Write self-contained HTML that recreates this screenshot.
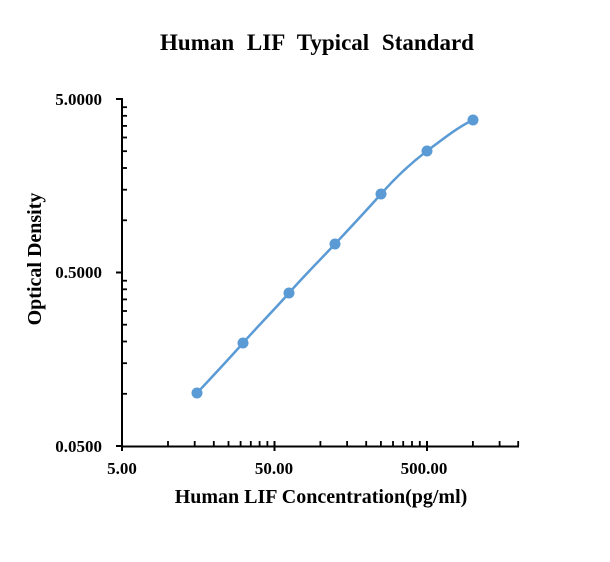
<!DOCTYPE html>
<html><head><meta charset="utf-8"><style>body{margin:0;background:#fff}</style></head>
<body>
<svg width="610" height="557" xmlns="http://www.w3.org/2000/svg" font-family="Liberation Serif, serif" font-weight="bold">
<rect width="610" height="557" fill="#fff"/>
<text x="317" y="50" font-size="23" word-spacing="7" text-anchor="middle">Human LIF Typical Standard</text>
<g stroke="#000" stroke-width="2" fill="none">
<line x1="122" y1="98" x2="122" y2="447"/>
<line x1="121" y1="446.5" x2="519" y2="446.5"/>
<line x1="116" y1="99" x2="122" y2="99"/>
<line x1="116" y1="272.5" x2="122" y2="272.5"/>
<line x1="116" y1="446" x2="122" y2="446"/>
<line x1="122" y1="441" x2="122" y2="451"/>
<line x1="274.5" y1="441" x2="274.5" y2="451"/>
<line x1="427" y1="441" x2="427" y2="451"/>
</g>
<g stroke="#000" stroke-width="1.8">
<line x1="168" y1="441" x2="168" y2="446"/><line x1="194.7" y1="441" x2="194.7" y2="446"/><line x1="213.8" y1="441" x2="213.8" y2="446"/><line x1="228.5" y1="441" x2="228.5" y2="446"/><line x1="240.6" y1="441" x2="240.6" y2="446"/><line x1="250.8" y1="441" x2="250.8" y2="446"/><line x1="259.6" y1="441" x2="259.6" y2="446"/><line x1="267.4" y1="441" x2="267.4" y2="446"/>
<line x1="320.4" y1="441" x2="320.4" y2="446"/><line x1="347.1" y1="441" x2="347.1" y2="446"/><line x1="366.2" y1="441" x2="366.2" y2="446"/><line x1="380.9" y1="441" x2="380.9" y2="446"/><line x1="393" y1="441" x2="393" y2="446"/><line x1="403.2" y1="441" x2="403.2" y2="446"/><line x1="412" y1="441" x2="412" y2="446"/><line x1="419.8" y1="441" x2="419.8" y2="446"/>
<line x1="472.9" y1="441" x2="472.9" y2="446"/><line x1="499.6" y1="441" x2="499.6" y2="446"/><line x1="518.2" y1="441" x2="518.2" y2="446"/>
<line x1="122" y1="107.2" x2="127" y2="107.2"/><line x1="122" y1="115.8" x2="127" y2="115.8"/><line x1="122" y1="125.9" x2="127" y2="125.9"/><line x1="122" y1="137.5" x2="127" y2="137.5"/><line x1="122" y1="151.2" x2="127" y2="151.2"/><line x1="122" y1="168" x2="127" y2="168"/><line x1="122" y1="189.7" x2="127" y2="189.7"/><line x1="122" y1="220.3" x2="127" y2="220.3"/>
<line x1="122" y1="280.7" x2="127" y2="280.7"/><line x1="122" y1="289.3" x2="127" y2="289.3"/><line x1="122" y1="299.4" x2="127" y2="299.4"/><line x1="122" y1="311" x2="127" y2="311"/><line x1="122" y1="324.7" x2="127" y2="324.7"/><line x1="122" y1="341.5" x2="127" y2="341.5"/><line x1="122" y1="363.2" x2="127" y2="363.2"/><line x1="122" y1="393.8" x2="127" y2="393.8"/>
</g>
<g font-size="17" text-anchor="end">
<text x="102" y="105">5.0000</text>
<text x="102" y="278">0.5000</text>
<text x="102" y="452">0.0500</text>
</g>
<g font-size="17" text-anchor="middle">
<text x="122" y="474">5.00</text>
<text x="274" y="474">50.00</text>
<text x="424" y="474">500.00</text>
</g>
<text x="321" y="503" font-size="20" text-anchor="middle">Human LIF Concentration(pg/ml)</text>
<text transform="translate(41,259) rotate(-90)" font-size="20" text-anchor="middle">Optical Density</text>
<path d="M197,393 C212,377 228,360 243,343 S274,310 289,293 S320,260 335,244 S366,211 381,194 S411,163 427,151 S458,127 473,120" stroke="#5b9bd5" stroke-width="2.5" fill="none"/>
<g fill="#5b9bd5">
<circle cx="197" cy="393" r="5.5"/><circle cx="243" cy="343" r="5.5"/><circle cx="289" cy="293" r="5.5"/><circle cx="335" cy="244" r="5.5"/><circle cx="381" cy="194" r="5.5"/><circle cx="427" cy="151" r="5.5"/><circle cx="473" cy="120" r="5.5"/>
</g>
</svg>
</body></html>
